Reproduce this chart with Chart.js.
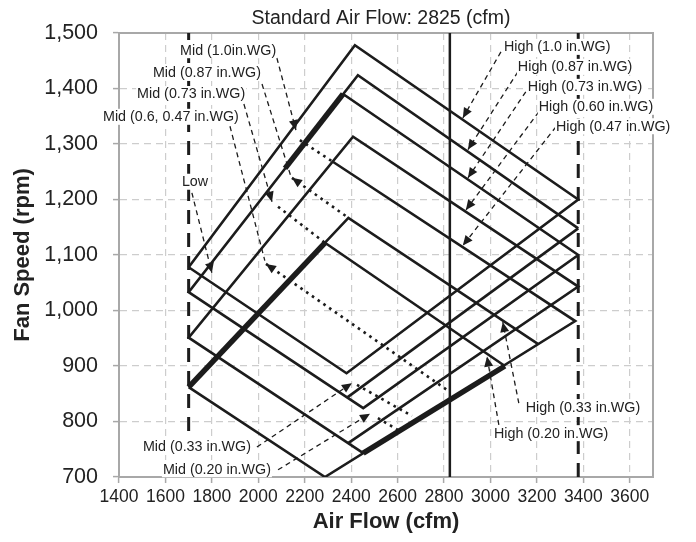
<!DOCTYPE html>
<html>
<head>
<meta charset="utf-8">
<script src="https://cdn.jsdelivr.net/npm/chart.js@4.4.0/dist/chart.umd.min.js"></script>
<style>
html, body { margin: 0; padding: 0; background: #fff; }
</style>
</head>
<body>
<canvas id="fanChart" width="696" height="542"></canvas>
<script>
'use strict';
// axis ticks
const cfmTicks = [1400, 1600, 1800, 2000, 2200, 2400, 2600, 2800, 3000, 3200, 3400, 3600];
const rpmTicks = [700, 800, 900, 1000, 1100, 1200, 1300, 1400, 1500];
const stdAirFlow = 2825;
const lowLimit = [[1700, 700], [1700, 1500]];
const highLimit = [[3378, 700], [3378, 1500]];
const stdLine = [[stdAirFlow, 700], [stdAirFlow, 1500]];

// solid operating curves, [cfm, rpm]
const curve100 = [[1700, 1078], [2416, 1478], [3378, 1200], [2380, 887], [1700, 1078]];
const curve087 = [[3378, 1148], [2429, 1424], [1700, 1033], [2452, 824], [3378, 1100], [2365, 1390]];
const curve087b = [[2382, 843], [3378, 1148]];
const curve060 = [[2452, 743], [1700, 951], [2408, 1313], [3378, 1043], [2387, 761]];
const curve047 = [[1700, 862], [2287, 700], [3365, 981], [2321, 1268]];
const curve033 = [[1700, 862], [2388, 1167], [3204, 940]];
const curve020 = [[2287, 1122], [3062, 900]];
// overlapping (heavy) pieces
const heavy073 = [[2115, 1256], [2365, 1390]];
const heavy020a = [[1700, 862], [2287, 1122]];
const heavy020b = [[2452, 743], [3062, 900]];

// Mid tap lines (dotted)
const mid100 = [[2179, 1307], [2321, 1268]];
const mid087 = [[2145, 1239], [2388, 1167]];
const mid073 = [[2085, 1187], [2287, 1122]];
const mid060 = [[2033, 1084], [2812, 857]];
const mid033 = [[2425, 866], [2662, 810]];
const mid020 = [[2515, 806], [2601, 785]];

// callout leaders (dashed)
const leadMid100 = [[2080, 1455], [2162, 1325]];
const leadMid087 = [[2016, 1408], [2140, 1242]];
const leadMid073 = [[1938, 1372], [2059, 1196]];
const leadMid060 = [[1878, 1332], [2028, 1090]];
const leadMid033 = [[1994, 754], [2403, 869]];
const leadMid020 = [[2085, 713], [2481, 814]];
const leadLow = [[1714, 1212], [1800, 1068]];
const leadHigh100 = [[3045, 1466], [2881, 1347]];
const leadHigh087 = [[3118, 1430], [2903, 1290]];
const leadHigh073 = [[3152, 1394], [2903, 1239]];
const leadHigh060 = [[3208, 1358], [2894, 1181]];
const leadHigh047 = [[3282, 1331], [2881, 1117]];
const leadHigh033 = [[3122, 833], [3053, 979]];
const leadHigh020 = [[3036, 794], [2985, 917]];

// callout texts: text, cfm (left edge), rpm (middle)
const notes = [
  ['Mid (1.0in.WG)', 1663, 1469],
  ['Mid (0.87 in.WG)', 1546, 1428],
  ['Mid (0.73 in.WG)', 1478, 1390],
  ['Mid (0.6, 0.47 in.WG)', 1331, 1349],
  ['Low', 1671, 1232],
  ['Mid (0.33 in.WG)', 1503, 754],
  ['Mid (0.20 in.WG)', 1589, 714],
  ['High (1.0 in.WG)', 3058, 1475],
  ['High (0.87 in.WG)', 3118, 1439],
  ['High (0.73 in.WG)', 3161, 1403],
  ['High (0.60 in.WG)', 3208, 1367],
  ['High (0.47 in.WG)', 3282, 1332],
  ['High (0.33 in.WG)', 3152, 826],
  ['High (0.20 in.WG)', 3015, 779]
];

const ink = '#1c1c1c';
const sans = "'Liberation Sans', Arial, sans-serif";
const pts = a => a.map(p => ({x: p[0], y: p[1]}));

function line(data, width, dash, arrow) {
  return {data: pts(data), showLine: true, borderColor: ink, backgroundColor: ink,
    borderWidth: width, borderDash: dash || [], pointRadius: 0, tension: 0, arrow: arrow};
}

const datasets = [
  line(lowLimit, 3, [14, 9]),
  line(highLimit, 3, [14, 9]),
  line(stdLine, 2.5),
  line(curve100, 2.6), line(curve087, 2.6), line(curve087b, 2.6),
  line(curve060, 2.6), line(curve047, 2.6), line(curve033, 2.6), line(curve020, 2.6),
  line(heavy073, 5.5), line(heavy020a, 5.5), line(heavy020b, 5.5),
  line(mid100, 2.6, [2.6, 4.4]), line(mid087, 2.6, [2.6, 4.4], 'start'),
  line(mid073, 2.6, [2.6, 4.4]), line(mid060, 2.6, [2.6, 4.4], 'start'),
  line(mid033, 2.6, [2.6, 4.4]), line(mid020, 2.6, [2.6, 4.4]),
  line(leadMid100, 1.3, [5, 4], 'end'), line(leadMid087, 1.3, [5, 4]),
  line(leadMid073, 1.3, [5, 4], 'end'), line(leadMid060, 1.3, [5, 4]),
  line(leadMid033, 1.3, [5, 4], 'end'), line(leadMid020, 1.3, [5, 4], 'end'),
  line(leadLow, 1.3, [5, 4], 'end'),
  line(leadHigh100, 1.3, [5, 4], 'end'), line(leadHigh087, 1.3, [5, 4], 'end'),
  line(leadHigh073, 1.3, [5, 4], 'end'), line(leadHigh060, 1.3, [5, 4], 'end'),
  line(leadHigh047, 1.3, [5, 4], 'end'), line(leadHigh033, 1.3, [5, 4], 'end'),
  line(leadHigh020, 1.3, [5, 4], 'end')
];

const decor = {
  id: 'decor',
  beforeDatasetsDraw(chart) {
    const c = chart.ctx, a = chart.chartArea;
    c.save();
    c.strokeStyle = '#a8a8a8';
    c.lineWidth = 2;
    c.strokeRect(a.left, a.top, a.right - a.left, a.bottom - a.top);
    c.restore();
  },
  afterDatasetsDraw(chart) {
    const c = chart.ctx;
    chart.data.datasets.forEach((ds, i) => {
      if (!ds.arrow) return;
      const el = chart.getDatasetMeta(i).data;
      const tip = ds.arrow === 'end' ? el[el.length - 1] : el[0];
      const from = ds.arrow === 'end' ? el[el.length - 2] : el[1];
      const ang = Math.atan2(tip.y - from.y, tip.x - from.x);
      c.save();
      c.translate(tip.x, tip.y);
      c.rotate(ang);
      c.beginPath();
      c.moveTo(0, 0);
      c.lineTo(-10, -4.5);
      c.lineTo(-10, 4.5);
      c.closePath();
      c.fillStyle = ink;
      c.fill();
      c.restore();
    });
  },
  afterDraw(chart) {
    const c = chart.ctx, a = chart.chartArea, sx = chart.scales.x, sy = chart.scales.y;
    c.save();
    c.font = '14.3px ' + sans;
    c.textBaseline = 'middle';
    c.textAlign = 'left';
    notes.forEach(n => {
      const x = sx.getPixelForValue(n[1]), y = sy.getPixelForValue(n[2]);
      const w = c.measureText(n[0]).width;
      c.fillStyle = '#fff';
      c.fillRect(x - 1, y - 8, w + 2, 16);
      c.fillStyle = '#222';
      c.fillText(n[0], x, y + 0.5);
    });
    c.font = '19.5px ' + sans;
    c.textAlign = 'center';
    c.fillStyle = '#222';
    c.fillText('Standard Air Flow: 2825 (cfm)', (a.left + a.right) / 2 - 5, 19);
    c.restore();
  }
};

new Chart(document.getElementById('fanChart'), {
  type: 'scatter',
  data: {datasets: datasets},
  plugins: [decor],
  options: {
    responsive: false,
    animation: false,
    layout: {padding: {top: 33, right: 43, left: 0, bottom: 0}},
    plugins: {legend: {display: false}, tooltip: {enabled: false}},
    scales: {
      x: {
        type: 'linear', min: 1400, max: 3700,
        afterBuildTicks: s => { s.ticks = cfmTicks.map(v => ({value: v})); },
        afterFit: s => { s.height = 65; },
        ticks: {font: {family: sans, size: 17.5}, color: '#222', padding: 4, maxRotation: 0, autoSkip: false, callback: v => String(v)},
        grid: {color: '#cdcdcd', lineWidth: 1.2, tickLength: 6, tickColor: '#a8a8a8', tickWidth: 1.5, tickBorderDash: []},
        border: {color: '#a8a8a8', width: 2, dash: [7, 5]},
        title: {display: true, text: 'Air Flow (cfm)', color: '#222', font: {family: sans, size: 22, weight: 'bold'}, padding: {top: 0, bottom: 7}}
      },
      y: {
        type: 'linear', min: 700, max: 1500,
        afterBuildTicks: s => { s.ticks = rpmTicks.map(v => ({value: v})); },
        afterFit: s => { s.width = 119; },
        ticks: {font: {family: sans, size: 21.5}, color: '#222', padding: 15, callback: v => v.toLocaleString('en-US')},
        grid: {color: '#cdcdcd', lineWidth: 1.2, tickLength: 6, tickColor: '#a8a8a8', tickWidth: 1.5, tickBorderDash: []},
        border: {color: '#a8a8a8', width: 2, dash: [7, 5]},
        title: {display: true, text: 'Fan Speed (rpm)', color: '#222', font: {family: sans, size: 22, weight: 'bold'}, padding: {top: 10, bottom: 0}}
      }
    }
  }
});
</script>
</body>
</html>
